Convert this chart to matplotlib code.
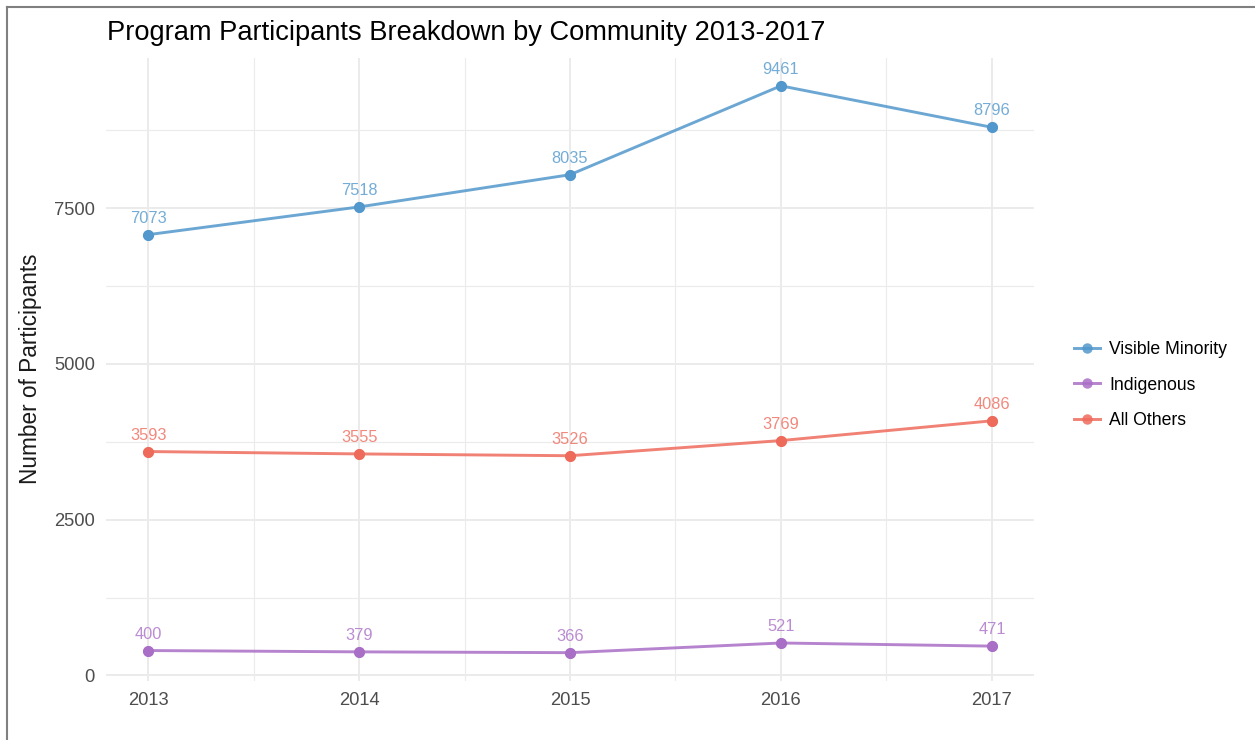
import matplotlib
matplotlib.use("Agg")
import matplotlib.pyplot as plt
from matplotlib.lines import Line2D

plt.rcParams["font.family"] = ["Liberation Sans", "DejaVu Sans"]

# Data
years = [2013, 2014, 2015, 2016, 2017]
visible_minority = [7073, 7518, 8035, 9461, 8796]
indigenous = [400, 379, 366, 521, 471]
all_others = [3593, 3555, 3526, 3769, 4086]

series_names = ["Visible Minority", "Indigenous", "All Others"]
series_values = [visible_minority, indigenous, all_others]
series_colors = ["#5298CC", "#A96FC6", "#EE6B5C"]

y_ticks = [0, 2500, 5000, 7500]
y_minor = [1250, 3750, 6250, 8750]
x_minor = [2013.5, 2014.5, 2015.5, 2016.5]

W, H = 1255, 740
fig = plt.figure(figsize=(W / 100, H / 100), dpi=100)
ax = fig.add_axes([106 / W, 1 - 681 / H, (1034 - 106) / W, (681 - 57.5) / H])

for name, vals, col in zip(series_names, series_values, series_colors):
    ax.plot(years, vals, color=col, lw=2.1, alpha=0.85, zorder=3, label=name,
            marker="o", markersize=7.5, markerfacecolor=col, markeredgecolor=col,
            markeredgewidth=0)
    ax.plot(years, vals, "o", color=col, markersize=7, zorder=4)
    for x, v in zip(years, vals):
        ax.annotate(str(v), (x, v), xytext=(0, 6.5), textcoords="offset points",
                    ha="center", va="bottom", fontsize=11.8, color=col, alpha=0.8)

# ggplot-like scales (5% y expansion, 0.2 x expansion)
lo = min(min(v) for v in series_values)
hi = max(max(v) for v in series_values)
pad = (hi - lo) * 0.05
ax.set_ylim(lo - pad, hi + pad)
ax.set_xlim(years[0] - 0.2, years[-1] + 0.2)

ax.set_xticks(years)
ax.set_xticks(x_minor, minor=True)
ax.set_yticks(y_ticks)
ax.set_yticks(y_minor, minor=True)
ax.grid(which="major", color="#EBEBEB", lw=1.4)
ax.grid(which="minor", color="#EBEBEB", lw=0.8)
ax.set_axisbelow(True)
ax.tick_params(which="both", length=0)
ax.tick_params(axis="y", pad=8, labelsize=13.2, labelcolor="#4D4D4D")
ax.tick_params(axis="x", pad=8, labelsize=13.2, labelcolor="#4D4D4D")
for s in ax.spines.values():
    s.set_visible(False)

ax.set_ylabel("Number of Participants", fontsize=16.3, color="#1A1A1A")
ax.yaxis.set_label_coords(-(106 - 42) / (1034 - 106), 0.5)
fig.text(107 / W, 1 - 33 / H, "Program Participants Breakdown by Community 2013-2017",
         fontsize=19.6, color="#000000", ha="left", va="center")

handles, labels = ax.get_legend_handles_labels()
fig.legend(handles[:3], labels[:3], loc="center left",
           bbox_to_anchor=(1058 / W, 1 - 385 / H), frameon=False,
           fontsize=12.7, handlelength=1.5, labelspacing=1.05, handletextpad=0.5)

# screenshot border (top and left)
fig.add_artist(Line2D([7 / W, 1], [1 - 7 / H, 1 - 7 / H], color="#808080", lw=1.5))
fig.add_artist(Line2D([7 / W, 7 / W], [0, 1 - 7 / H], color="#808080", lw=1.5))

fig.savefig("out.png", dpi=100)
